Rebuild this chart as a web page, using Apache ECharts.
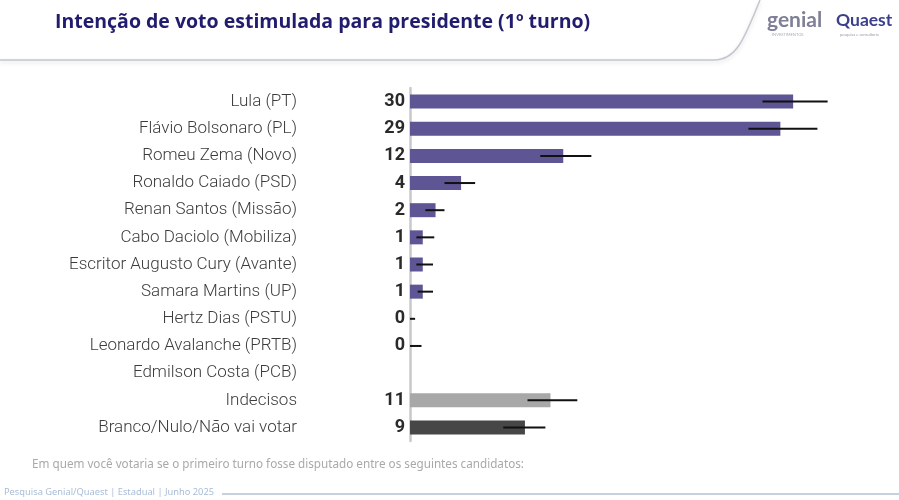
<!DOCTYPE html>
<html><head><meta charset="utf-8">
<script src="https://cdn.jsdelivr.net/npm/echarts@6/dist/echarts.min.js"></script>
<style>html,body{margin:0;padding:0;background:#fff}#c{width:899px;height:500px}</style>
</head><body><div id="c"></div>
<script>
const categories = ["Lula (PT)","Flávio Bolsonaro (PL)","Romeu Zema (Novo)","Ronaldo Caiado (PSD)","Renan Santos (Missão)","Cabo Daciolo (Mobiliza)","Escritor Augusto Cury (Avante)","Samara Martins (UP)","Hertz Dias (PSTU)","Leonardo Avalanche (PRTB)","Edmilson Costa (PCB)","Indecisos","Branco/Nulo/Não vai votar"];
const values = [30,29,12,4,2,1,1,1,0,0,null,11,9];
const errLow  = [27.6,26.5,10.2,2.7,1.2,0.5,0.5,0.6,0,0,null,9.2,7.3];
const errHigh = [32.7,31.9,14.2,5.1,2.7,1.9,1.8,1.8,0.4,0.9,null,13.1,10.6];
const groups = ["cand","cand","cand","cand","cand","cand","cand","cand","cand","cand","cand","undecided","blank"];
const groupColors = {cand:"#5d5594", undecided:"#a8a8a8", blank:"#474747"};

const chart = echarts.init(document.getElementById('c'));
const barData = values.map((v,i)=>({value:v, itemStyle:{color:groupColors[groups[i]]}}));
const errData = categories.map((c,i)=>[i, errLow[i], errHigh[i]]);

chart.setOption({
  animation:false,
  grid:{left:410, top:88, bottom:59, right:42},
  xAxis:{type:'value', min:0, max:35, show:false},
  yAxis:{type:'category', data:categories, inverse:true,
    axisLine:{show:true, lineStyle:{color:'#c9c9c9', width:2.5}},
    axisTick:{show:false},
    axisLabel:{margin:113, fontFamily:'Roboto', fontWeight:300, fontSize:17, color:'#3c3c3c'}
  },
  series:[
    {type:'bar', data:barData, barWidth:14, z:2,
     label:{show:true, position:'left', distance:5, fontFamily:'Roboto', fontWeight:'bold', fontSize:18, color:'#2a2a2a',
       formatter:p=>p.value==null?'':String(p.value)}},
    {type:'custom', z:3, data:errData,
     renderItem:(params, api)=>{
       const lo = api.value(1), hi = api.value(2);
       if (lo==null || isNaN(lo)) return;
       const a = api.coord([lo, api.value(0)]);
       const b = api.coord([hi, api.value(0)]);
       return {type:'line', shape:{x1:a[0], y1:a[1], x2:b[0], y2:b[1]}, style:{stroke:'#111', lineWidth:2}};
     },
     encode:{x:[1,2], y:0}}
  ],
  graphic:[
    {type:'text', left:55, top:12, style:{text:'Intenção de voto estimulada para presidente (1º turno)', fontFamily:'Open Sans', fontWeight:'bold', fontSize:19.5, fill:'#221c6e'}},
    {type:'line', shape:{x1:0, y1:60, x2:714, y2:60}, style:{stroke:'#c3c6cf', lineWidth:1.5, shadowColor:'rgba(0,0,0,0.15)', shadowBlur:4, shadowOffsetY:2}},
    {type:'bezierCurve', shape:{x1:714, y1:60, cpx1:736, cpy1:60, cpx2:744, cpy2:40, x2:760, y2:0}, style:{fill:null, stroke:'#c3c6cf', lineWidth:1.5, shadowColor:'rgba(0,0,0,0.15)', shadowBlur:4, shadowOffsetY:2}},
    {type:'text', left:767, top:10, style:{text:'genial', fontFamily:'Lato', fontWeight:'bold', fontSize:21, fill:'#7f7f98'}},
    {type:'text', left:772, top:33, style:{text:'INVESTIMENTOS', fontFamily:'Lato', fontSize:4, fill:'#aaaabb'}},
    {type:'text', left:836, top:11, style:{text:'Quaest', fontFamily:'Lato', fontWeight:'bold', fontSize:17.5, fill:'#3b3f8c'}},
    {type:'text', left:840, top:33, style:{text:'pesquisa e consultoria', fontFamily:'Lato', fontSize:4, fill:'#9a9ab0'}},
    {type:'text', left:32, top:459, style:{text:'Em quem você votaria se o primeiro turno fosse disputado entre os seguintes candidatos:', fontFamily:'Noto Sans', fontSize:11.7, fill:'#a9a9a9'}},
    {type:'text', left:4, top:488, style:{text:'Pesquisa Genial/Quaest | Estadual | Junho 2025', fontFamily:'Noto Sans', fontSize:9.3, fill:'#a9bdd6'}},
    {type:'line', shape:{x1:222, y1:494, x2:899, y2:494}, style:{stroke:'#b5c2d2', lineWidth:1.5}}
  ]
});
</script></body></html>
